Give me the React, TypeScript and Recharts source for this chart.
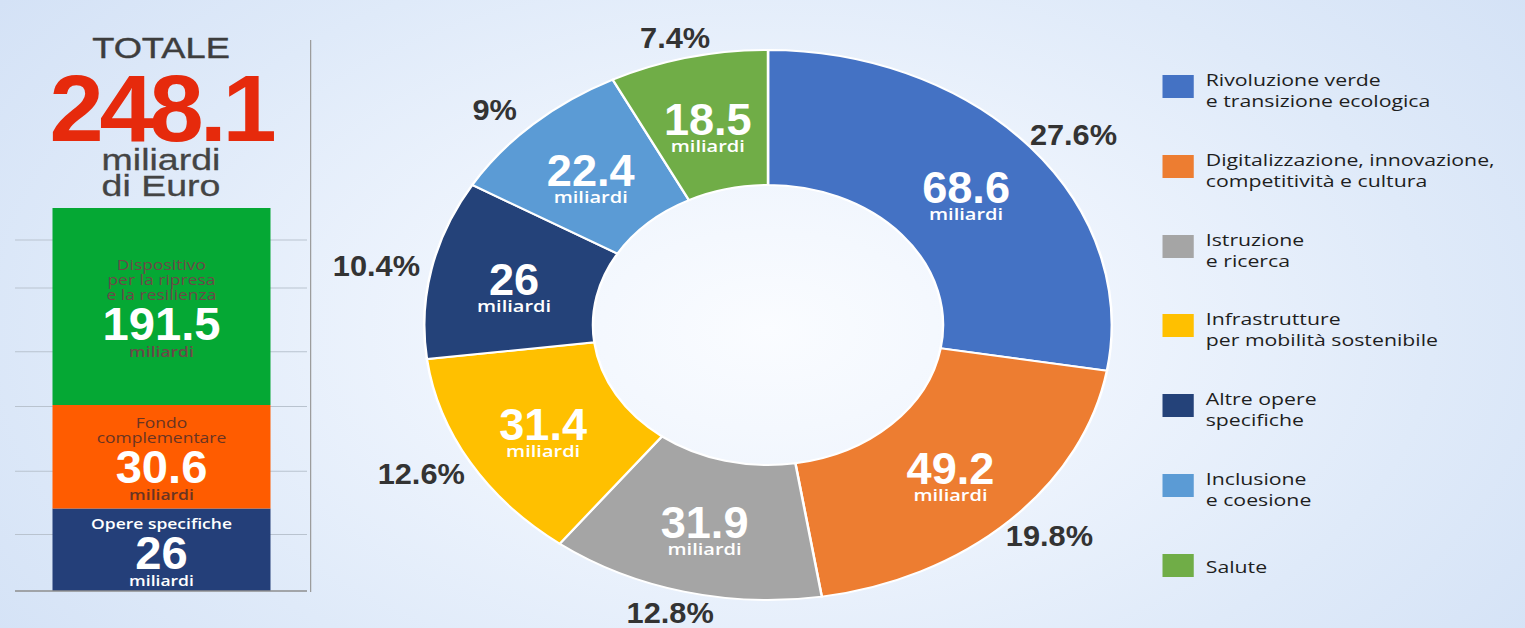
import React from "react";
import { PieChart, Pie, Cell, Legend, BarChart, Bar, XAxis, YAxis, CartesianGrid, LabelList } from "recharts";

// ---------- Data ----------
const CATEGORIES = [
  "Rivoluzione verde\ne transizione ecologica",
  "Digitalizzazione, innovazione,\ncompetitività e cultura",
  "Istruzione\ne ricerca",
  "Infrastrutture\nper mobilità sostenibile",
  "Altre opere\nspecifiche",
  "Inclusione\ne coesione",
  "Salute",
];
const VALUES = [68.6, 49.2, 31.9, 31.4, 26, 22.4, 18.5];
const PERCENT_LABELS = ["27.6%", "19.8%", "12.8%", "12.6%", "10.4%", "9%", "7.4%"];
const COLORS = ["#4472c4", "#ed7d31", "#a5a5a5", "#ffc000", "#244279", "#5b9bd5", "#70ad47"];
const UNIT = "miliardi";

const TOTAL_LABEL = "248.1";
const BAR_KEYS = ["opere", "fondo", "dispositivo"];
const BAR_VALUES = [26, 30.6, 191.5];
const BAR_TITLES = [["Opere specifiche"], ["Fondo", "complementare"], ["Dispositivo", "per la ripresa", "e la resilienza"]];
const BAR_COLORS = ["#243f79", "#ff5c00", "#05a834"];
const BAR_TEXT_COLORS = ["#ffffff", "#6a3422", "#6d4848"];
const BAR_UNIT_COLORS = ["#ffffff", "#6a3422", "#6d4848"];
const GRID_TICKS = [21.4, 34.4, 55.9, 84.4, 136, 195];
const LOG_DOMAIN: [number, number] = [14, 248.1];

const pieData = CATEGORIES.map((name, i) => ({ name, value: VALUES[i] }));
const barRow: Record<string, any> = { name: "Totale" };
BAR_KEYS.forEach((k, i) => (barRow[k] = BAR_VALUES[i]));
const barData = [barRow];

// ---------- Styles ----------
const SANS = "'Open Sans', 'Liberation Sans', sans-serif";
const ARIAL = "'Liberation Sans', Arial, sans-serif";
const SX = 1.25; // the whole graphic is stretched horizontally
const NARROW_K = 0.82; // condensed look for bold numbers

const RADIAN = Math.PI / 180;

const NarrowText = ({ x, y, size, fill, children }: any) => (
  <text
    transform={`translate(${x},${y}) scale(${NARROW_K},1)`}
    x={0}
    y={0}
    textAnchor="middle"
    fill={fill}
    fontFamily={ARIAL}
    fontWeight={700}
    fontSize={size}
  >
    {children}
  </text>
);

const renderPieLabel = (props: any) => {
  const { cx, cy, midAngle, innerRadius, outerRadius, index, value } = props;
  const cos = Math.cos(-midAngle * RADIAN);
  const sin = Math.sin(-midAngle * RADIAN);
  const rIn = (innerRadius + outerRadius) / 2;
  const xi = cx + rIn * cos;
  const yi = cy + rIn * sin;
  const xo = cx + (outerRadius + 45) * cos;
  const yo = cy + (outerRadius + 21) * sin;
  return (
    <g>
      <NarrowText x={xi} y={yi + 12} size={44} fill="#ffffff">
        {String(value)}
      </NarrowText>
      <text x={xi} y={yi + 29} textAnchor="middle" fill="#ffffff" fontFamily={SANS} fontWeight={600} fontSize={16}>
        {UNIT}
      </text>
      <NarrowText x={xo} y={yo + 11} size={30} fill="#333333">
        {PERCENT_LABELS[index]}
      </NarrowText>
    </g>
  );
};

const renderLegend = (props: any) => {
  const { payload } = props;
  const items = [...(payload || [])].sort(
    (a: any, b: any) => CATEGORIES.indexOf(a.value) - CATEGORIES.indexOf(b.value)
  );
  return (
    <div style={{ display: "flex", flexDirection: "column" }}>
      {items.map((entry: any, i: number) => {
        const lines = String(entry.value).split("\n");
        return (
          <div key={i} style={{ display: "flex", alignItems: "flex-start", height: 79.8 }}>
            <div style={{ width: 25, height: 23, background: entry.color, flex: "none" }} />
            <div
              style={{
                marginLeft: 10,
                marginTop: lines.length === 1 ? 2 : -6,
                fontFamily: SANS,
                fontSize: 17,
                lineHeight: "21px",
                color: "#1e1e1e",
                whiteSpace: "nowrap",
              }}
            >
              {lines.map((l, j) => (
                <div key={j}>{l}</div>
              ))}
            </div>
          </div>
        );
      })}
    </div>
  );
};

const makeSegLabel = (seg: number) => (props: any) => {
  const { x, y, width, height } = props;
  const titles = BAR_TITLES[seg];
  const cxm = x + width / 2;
  const c = y + height / 2;
  const total = (titles.length - 1) * 15 + 30 + 26;
  const first = c - total / 2 + 2;
  const numY = first + (titles.length - 1) * 15 + 30;
  const unitY = numY + 26;
  return (
    <g>
      {titles.map((t, j) => (
        <text
          key={j}
          x={cxm}
          y={first + j * 15 + 5}
          textAnchor="middle"
          fill={BAR_TEXT_COLORS[seg]}
          fontFamily={SANS}
          fontSize={14}
          fontWeight={seg === 0 ? 600 : 400}
        >
          {t}
        </text>
      ))}
      <NarrowText x={cxm} y={numY + 15} size={46} fill="#ffffff">
        {String(BAR_VALUES[seg])}
      </NarrowText>
      <text x={cxm} y={unitY + 6} textAnchor="middle" fill={BAR_UNIT_COLORS[seg]} fontFamily={SANS} fontWeight={600} fontSize={14}>
        {UNIT}
      </text>
    </g>
  );
};

// Grid rows at GRID_TICKS on the log axis
const gridRows = (props: any) => {
  try {
    const s = props && props.yAxis && props.yAxis.scale;
    if (typeof s === "function") {
      return GRID_TICKS.map((t) => s(t)).filter((v: number) => Number.isFinite(v));
    }
    if (s && typeof s.map === "function") {
      return GRID_TICKS.map((t) => s.map(t)).filter((v: any) => Number.isFinite(v));
    }
    const off = props && props.offset;
    if (off && Number.isFinite(off.top) && Number.isFinite(off.height)) {
      const span = Math.log(LOG_DOMAIN[1] / LOG_DOMAIN[0]);
      return GRID_TICKS.map((t) => off.top + off.height * (1 - Math.log(t / LOG_DOMAIN[0]) / span));
    }
  } catch (e) {
    // ignore
  }
  return [];
};

export default function App() {
  return (
    <div
      style={{
        position: "absolute",
        left: 0,
        top: 0,
        width: 1525,
        height: 628,
        overflow: "hidden",
        background:
          "radial-gradient(ellipse 950px 560px at 768px 330px, #fafcff 0%, #eef4fd 35%, #dfeaf9 70%, #d4e2f6 100%)",
      }}
    >
      <div
        style={{
          position: "absolute",
          left: 0,
          top: 0,
          width: 1525 / SX,
          height: 628,
          transform: `scaleX(${SX})`,
          transformOrigin: "0 0",
        }}
      >
        {/* Header */}
        <div style={{ position: "absolute", left: 0, width: 257.6, top: 33, textAlign: "center", fontFamily: ARIAL, fontSize: 29, lineHeight: "30px", color: "#3d3d3d", WebkitTextStroke: "0.4px #3d3d3d" }}>
          TOTALE
        </div>
        <div style={{ position: "absolute", left: 0, width: 257.6, top: 61, textAlign: "center" }}>
          <span
            style={{
              display: "inline-block",
              transform: `scaleX(${NARROW_K})`,
              fontFamily: ARIAL,
              fontWeight: 700,
              fontSize: 95,
              lineHeight: "95px",
              letterSpacing: -4,
              color: "#e62a0c",
            }}
          >
            {TOTAL_LABEL}
          </span>
        </div>
        <div style={{ position: "absolute", left: 0, width: 257.6, top: 147, textAlign: "center", fontFamily: ARIAL, fontSize: 30, lineHeight: "26px", color: "#444444", WebkitTextStroke: "0.3px #444444" }}>
          <div>miliardi</div>
          <div>di Euro</div>
        </div>

        {/* Separator */}
        <div style={{ position: "absolute", left: 248, top: 40, width: 1.2, height: 552, background: "#9c9c9c" }} />

        {/* Stacked bar */}
        <div style={{ position: "absolute", left: 0, top: 0 }}>
          <BarChart width={250} height={628} data={barData} margin={{ top: 208, right: 4.4, left: 12, bottom: 36 }}>
            <CartesianGrid vertical={false} horizontalCoordinatesGenerator={gridRows} stroke="#b9c3cf" strokeWidth={1} />
            <XAxis dataKey="name" tick={false} tickLine={false} axisLine={{ stroke: "#8e8e8e", strokeWidth: 1.5 }} height={1} />
            <YAxis
              scale="log"
              type="number"
              domain={LOG_DOMAIN}
              allowDataOverflow={true}
              ticks={GRID_TICKS}
              tick={false}
              tickLine={false}
              axisLine={false}
              width={0}
            />
            {BAR_KEYS.map((k, i) => (
              <Bar key={k} dataKey={k} stackId="tot" fill={BAR_COLORS[i]} barSize={174.4} isAnimationActive={false}>
                <LabelList dataKey={k} content={makeSegLabel(i)} />
              </Bar>
            ))}
          </BarChart>
        </div>

        {/* Donut */}
        <div style={{ position: "absolute", left: 250, top: 0 }}>
          <PieChart width={970} height={628} margin={{ top: 0, right: 0, bottom: 0, left: 0 }}>
            <Pie
              data={pieData}
              dataKey="value"
              nameKey="name"
              cx={364.4}
              cy={325}
              innerRadius={140}
              outerRadius={275}
              startAngle={90}
              endAngle={-270}
              stroke="#ffffff"
              strokeWidth={2}
              labelLine={false}
              label={renderPieLabel}
              isAnimationActive={false}
            >
              {pieData.map((d, i) => (
                <Cell key={d.name} fill={COLORS[i]} />
              ))}
            </Pie>
            <Legend
              layout="vertical"
              align="right"
              verticalAlign="top"
              content={renderLegend}
              wrapperStyle={{ position: "absolute", left: 679.6, top: 75, width: 290 }}
            />
          </PieChart>
        </div>
      </div>
    </div>
  );
}
